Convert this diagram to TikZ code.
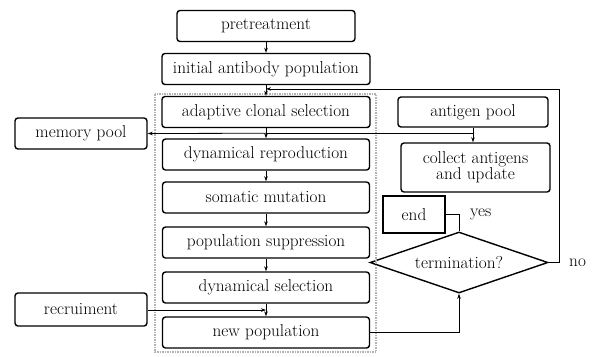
\documentclass[tikz,border=0pt]{standalone}
\usepackage{fontspec}
\usepackage{tikz}
\usetikzlibrary{arrows.meta, positioning, shapes.geometric, calc}

\tikzset{
  block/.style = {draw, line width=1.4bp, rounded corners=3bp, minimum width=207bp,
                  minimum height=31bp, inner sep=0pt},
  sidebox/.style = {block, minimum width=132bp},
  flow/.style = {-{Stealth[length=5bp, width=3.5bp]}, line width=0.8bp},
  link/.style = {line width=0.8bp}
}

\begin{document}
\begin{tikzpicture} [x=1bp, y=-1bp, node distance = 43bp, on grid, font=\fontsize{17.3}{19}\selectfont]
        \useasboundingbox (0,0) rectangle (596,356);

        % main column
        \node (pre) [block, minimum width=178bp] at (266,26) {pretreatment};
        \node (init) [block, below = of pre, minimum width=208bp] {initial antibody population};
        \node (clonal) [block, below = of init, minimum width=208bp] {adaptive clonal selection};
        \node (repro) [block, below = 42.5bp of clonal] {dynamical reproduction};
        \node (mutate) [block, below = of repro] {somatic mutation};
        \node (suppress) [block, below = 45bp of mutate] {population suppression};
        \node (dynsel) [block, below = 45bp of suppress] {dynamical selection};
        \node (newpop) [block, below = 45bp of dynsel] {new population};

        % side boxes
        \node (memory) [sidebox] at (81,133.5) {memory pool};
        \node (recruit) [sidebox, minimum height=33bp] at (81,309.5) {recruiment};
        \node (antigen) [block, minimum width=150bp, minimum height=30bp] at (473,112) {antigen pool};
        \node (collect) [block, minimum width=149bp, minimum height=49bp, align=center] at (475.5,167.5)
              {collect antigens\\[-3bp]and update};
        \node (end) [draw, line width=1.4bp, minimum width=62bp, minimum height=37bp] at (414,214.5) {end};
        \node (term) [draw, diamond, aspect=3, line width=1.4bp, minimum width=178bp, minimum height=61bp,
              inner sep=0pt] at (459,262.5) {termination?};

        \draw [gray!60, dash pattern=on 1.5bp off 1bp, line width=1.6bp] (155,94) rectangle (376,352);

        \coordinate (back) at ($(init.south)!0.35!(clonal.north)$);
        \coordinate (split) at ($(clonal.south)!0.5!(repro.north)$);
        \coordinate (join) at ($(dynsel.south)!0.5!(newpop.north)$);

        \draw [flow] (pre) -- (init);
        \draw [flow] (init) -- (clonal);
        \draw [flow] (clonal) -- (repro);
        \draw [flow] (repro) -- (mutate);
        \draw [flow] (mutate) -- (suppress);
        \draw [flow] (suppress) -- (dynsel);
        \draw [flow] (dynsel) -- (newpop);

        \draw [flow] (split) -- (memory.east);
        \draw [link] (split) -- (split -| antigen.south);
        \draw [flow] (antigen.south) -- (antigen.south |- collect.north);
        \draw [flow] (recruit.east |- join) -- (join);
        \draw [flow] (newpop.east) -| (term.south);
        \draw [link] (term.north) |- (end.east) node (yes) [pos=0.75, right=14bp] {yes};
        \draw [flow] (term.east) -- ++(11,0) |- (back);
        \node (no) [right=17bp of term.east] {no};
    \end{tikzpicture}
\end{document}
